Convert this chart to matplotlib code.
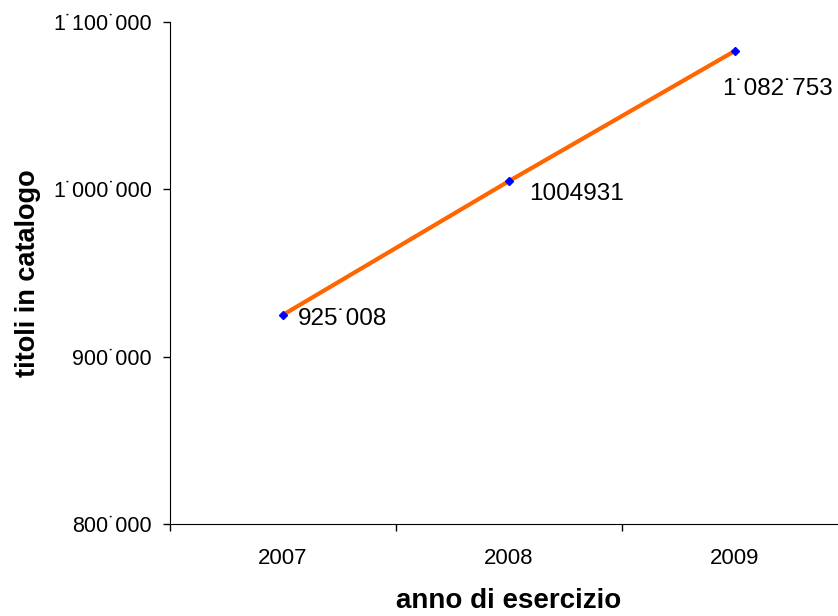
import matplotlib.pyplot as plt
from matplotlib.ticker import FixedLocator, FuncFormatter

# dati
anni = ['2007', '2008', '2009']
titoli = [925008, 1004931, 1082753]
etichette = ['925˙008', '1004931', '1˙082˙753']
y_ticks = [800000, 900000, 1000000, 1100000]

plt.rcParams['font.family'] = ['Liberation Sans', 'DejaVu Sans']

fig = plt.figure(figsize=(8.38, 6.16), dpi=100)
ax = fig.add_axes([170 / 838, 92 / 616, 678 / 838, 502 / 616])

x = list(range(1, len(anni) + 1))
ax.plot(x, titoli, color='#FF6600', lw=3, zorder=2)
ax.plot(x, titoli, ls='none', marker='D', ms=4.5, color='#0000FF', zorder=3)

# etichette dei dati
offsets = [(15, -4), (20, -13), (-13, -38)]
for xi, yi, lab, off in zip(x, titoli, etichette, offsets):
    ax.annotate(lab, (xi, yi), xytext=off, textcoords='offset pixels',
                ha='left', va='center', fontsize=17.5, color='black')

ax.set_xlim(0.5, 3.5)
ax.set_ylim(800000, 1100000)

ax.yaxis.set_major_locator(FixedLocator(y_ticks))
ax.yaxis.set_major_formatter(FuncFormatter(lambda v, p: f'{int(v):,}'.replace(',', '˙')))
ax.tick_params(axis='y', direction='out', length=5, width=1, labelsize=15.5, pad=8)

# tacche tra le categorie, etichette al centro
ax.xaxis.set_major_locator(FixedLocator([0.5, 1.5, 2.5, 3.5]))
ax.xaxis.set_major_formatter(FuncFormatter(lambda v, p: ''))
ax.xaxis.set_minor_locator(FixedLocator(x))
ax.xaxis.set_minor_formatter(FuncFormatter(lambda v, p: anni[int(round(v)) - 1]))
ax.tick_params(axis='x', which='major', direction='out', length=5, width=1)
ax.tick_params(axis='x', which='minor', length=0, pad=17.5, labelsize=16)

ax.spines['top'].set_visible(False)
ax.spines['right'].set_visible(False)
ax.spines['left'].set_color('black')
ax.spines['bottom'].set_color('black')

ax.set_ylabel('titoli in catalogo', fontsize=19.5, fontweight='bold')
ax.yaxis.set_label_coords(-(170 - 28) / 678, 0.5)
ax.yaxis.label.set_va('center')
ax.set_xlabel('anno di esercizio', fontsize=20, fontweight='bold')
ax.xaxis.set_label_coords(0.5, -(601 - 524) / 502)
ax.xaxis.label.set_va('center')

fig.savefig('out.png', dpi=100)
